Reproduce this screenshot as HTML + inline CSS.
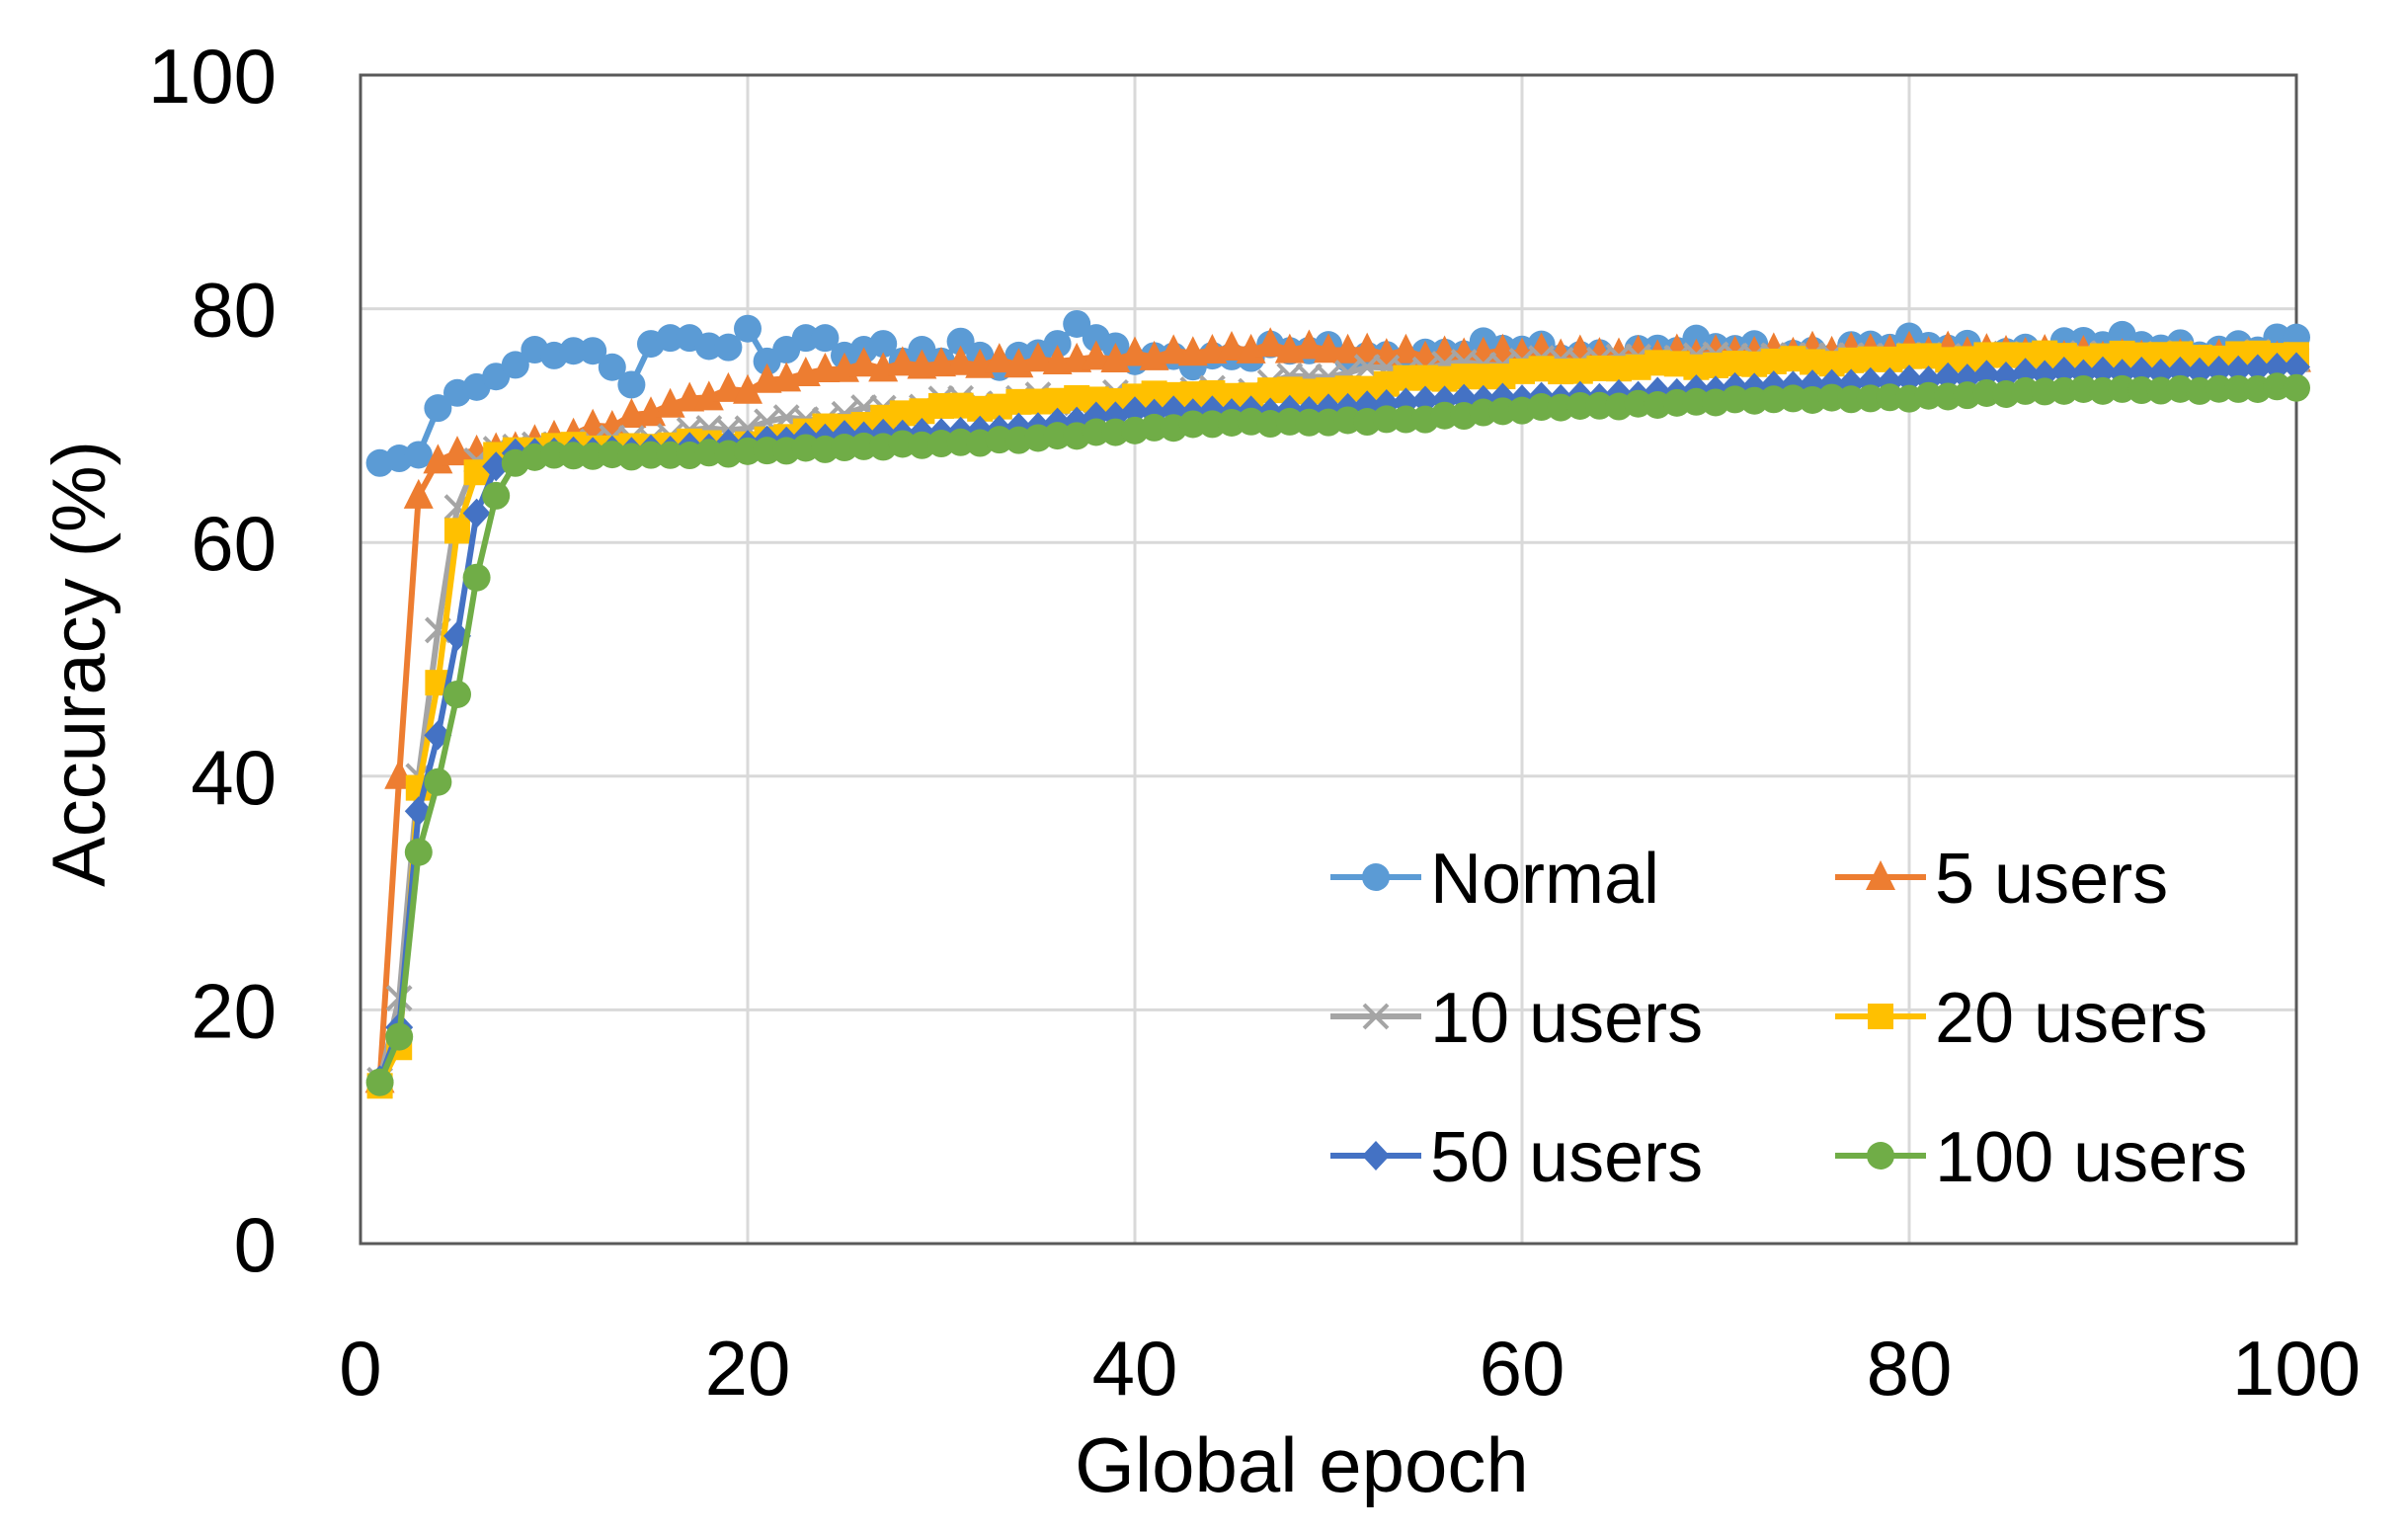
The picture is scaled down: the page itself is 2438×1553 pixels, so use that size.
<!DOCTYPE html>
<html><head><meta charset="utf-8"><style>
html,body{margin:0;padding:0;background:#fff;}
svg{display:block;font-family:"Liberation Sans",sans-serif;}
</style></head><body>
<svg id="s" width="2438" height="1553" xmlns="http://www.w3.org/2000/svg"></svg>
<script>
const s=document.getElementById('s');
const X0=365,X1=2325,Y0=76,Y1=1259;
const px=e=>X0+(e)*(X1-X0)/100, py=v=>Y1-v*(Y1-Y0)/100;
let h='';
for(let i=20;i<=80;i+=20){h+=`<line x1="${px(i)}" y1="${Y0}" x2="${px(i)}" y2="${Y1}" stroke="#d9d9d9" stroke-width="3"/>`;h+=`<line x1="${X0}" y1="${py(i)}" x2="${X1}" y2="${py(i)}" stroke="#d9d9d9" stroke-width="3"/>`;}
h+=`<rect x="${X0}" y="${Y0}" width="${X1-X0}" height="${Y1-Y0}" fill="none" stroke="#595959" stroke-width="3"/>`;
for(let i=0;i<=100;i+=20){h+=`<text x="280" y="${py(i)+28}" font-size="78" text-anchor="end">${i}</text>`;h+=`<text x="${px(i)}" y="1412" font-size="78" text-anchor="middle">${i}</text>`;}
h+=`<text x="1318" y="1510" font-size="78" text-anchor="middle">Global epoch</text>`;
h+=`<text transform="translate(106,672) rotate(-90)" font-size="76" text-anchor="middle">Accuracy (%)</text>`;
function interp(pts,e){for(let i=0;i<pts.length-1;i++){const[a,va]=pts[i],[b,vb]=pts[i+1];if(e>=a&&e<=b)return va+(vb-va)*(e-a)/(b-a);}return pts[pts.length-1][1];}
function gen(early,pts,amp,seed){const d=[];for(let e=1;e<=100;e++){if(early[e]!==undefined)d.push(early[e]);else d.push(interp(pts,e)+amp*Math.sin(e*seed)*Math.cos(e*1.7+seed));}return d;}
const normalEarly=[null,66.8,67.2,67.5,71.5,72.8,73.3,74.2,75.2,76.5,76,76.4,76.4,75,73.5,77,77.5,77.5,76.8,76.7,78.3,75.5,76.5,77.5,77.5,76,76.5,77,75.5,76.5,75.5,77.2,76,75,76,76.2,77,78.7,77.5,76.8,75.5];
const N={};normalEarly.forEach((v,i)=>{if(v!==null)N[i]=v;});
const series=[
{c:'#5b9bd5',m:'circle',d:gen(N,[[40,76],[100,77]],1.0,2.3)},
{c:'#ed7d31',m:'tri',d:gen({1:14,2:40,3:64,4:67,5:67.7,6:67.8,7:68},[[7,68],[13,70],[17,72],[20,73],[22,74],[25,75],[30,75.5],[40,76],[47,76.5],[55,76],[60,76.5],[100,76]],0.5,1.9)},
{c:'#a5a5a5',m:'x',d:gen({1:14,2:21,3:40,4:52.5,5:63,6:67,7:68},[[7,68],[15,69],[20,70],[25,71],[30,72],[40,72.5],[45,73],[50,74.5],[60,75.5],[70,76],[100,76]],0.4,3.1)},
{c:'#ffc000',m:'sq',d:gen({1:13.5,2:16.8,3:39,4:48,5:61,6:66,7:67.5},[[7,67.5],[8,68],[20,68.5],[25,70],[28,71],[30,71.5],[35,72],[40,72.5],[50,73],[55,74],[65,75],[75,75.5],[85,76],[100,76]],0.3,2.7)},
{c:'#4472c4',m:'dia',d:gen({1:14,2:18.5,3:37,4:43.5,5:52,6:62.5,7:66.5},[[7,66.5],[8,67.5],[15,68],[20,68.5],[25,69],[35,70],[40,71],[50,71.5],[55,72],[62,72.5],[70,73],[80,74],[90,74.5],[100,75]],0.25,1.3)},
{c:'#70ad47',m:'circle',d:gen({1:13.8,2:17.7,3:33.5,4:39.5,5:47,6:57,7:64,8:66.8},[[8,66.8],[9,67.3],[15,67.5],[20,67.8],[25,68],[30,68.5],[35,69],[40,69.5],[45,70.3],[55,70.5],[58,71],[62,71.7],[70,72],[80,72.5],[90,73],[100,73.3]],0.2,2.1)}
];
function mk(m,x,y,c){const r=14;
if(m==='circle')return `<circle cx="${x}" cy="${y}" r="${r}" fill="${c}"/>`;
if(m==='tri')return `<polygon points="${x},${y-r-3} ${x-r-1},${y+r-1} ${x+r+1},${y+r-1}" fill="${c}"/>`;
if(m==='sq')return `<rect x="${x-13}" y="${y-13}" width="26" height="26" fill="${c}"/>`;
if(m==='dia')return `<polygon points="${x},${y-r-1} ${x+r},${y} ${x},${y+r+1} ${x-r},${y}" fill="${c}"/>`;
return `<path d="M${x-12},${y-12}L${x+12},${y+12}M${x-12},${y+12}L${x+12},${y-12}" stroke="${c}" stroke-width="4"/>`;}
series.forEach(S=>{let p='';S.d.forEach((v,i)=>{p+=(i?'L':'M')+px(i+1).toFixed(1)+','+py(v).toFixed(1);});
h+=`<path d="${p}" fill="none" stroke="${S.c}" stroke-width="6" stroke-linejoin="round"/>`;
S.d.forEach((v,i)=>{h+=mk(S.m,px(i+1),py(v),S.c);});});
const L=[['Normal',0,0],['5 users',1,1],['10 users',0,2],['20 users',1,3],['50 users',0,4],['100 users',1,5]];
L.forEach(([t,col,si],k)=>{const row=Math.floor(k/2);const y=888+row*141;const lx=col?1858:1347;const S=series[si];
h+=`<line x1="${lx}" y1="${y}" x2="${lx+92}" y2="${y}" stroke="${S.c}" stroke-width="6"/>`+mk(S.m,lx+46,y,S.c);
h+=`<text x="${lx+101}" y="${y+26}" font-size="72">${t}</text>`;});
s.innerHTML=h;
</script>
</body></html>
